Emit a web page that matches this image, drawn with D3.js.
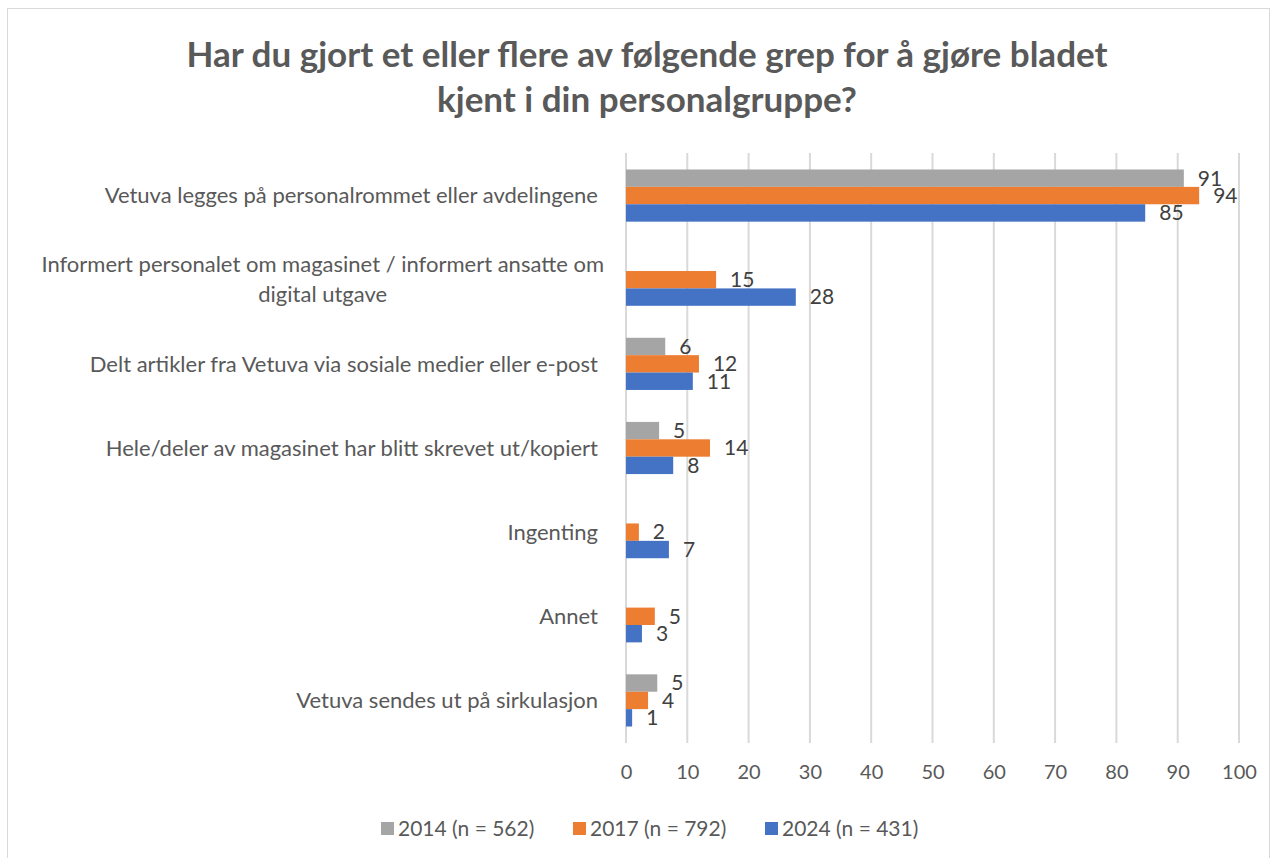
<!DOCTYPE html>
<html>
<head>
<meta charset="utf-8">
<script src="https://cdn.jsdelivr.net/npm/d3@7"></script>
<style>
  body { margin: 0; background: #fff; }
  svg text { font-family: Lato, "Open Sans", sans-serif; }
</style>
</head>
<body>
<div id="chart"></div>
<script>
// --- data ---
const categories = [
  "Vetuva legges på personalrommet eller avdelingene",
  "Informert personalet om magasinet / informert ansatte om|digital utgave",
  "Delt artikler fra Vetuva via sosiale medier eller e-post",
  "Hele/deler av magasinet har blitt skrevet ut/kopiert",
  "Ingenting",
  "Annet",
  "Vetuva sendes ut på sirkulasjon"
];
const seriesNames = ["2014 (n = 562)", "2017 (n = 792)", "2024 (n = 431)"];
const values2014 = [91.0, null, 6.4, 5.4, null, null, 5.1];
const values2017 = [93.5, 14.7, 11.9, 13.7, 2.1, 4.7, 3.6];
const values2024 = [84.7, 27.7, 10.9, 7.7, 7.0, 2.6, 1.0];
const xTicks = [0, 10, 20, 30, 40, 50, 60, 70, 80, 90, 100];
const colors = ["#a5a5a5", "#ed7d31", "#4472c4"];

const W = 1275, H = 858;
const svg = d3.select("#chart").append("svg")
  .attr("width", W).attr("height", H);

// chart border
svg.append("rect")
  .attr("x", 7.5).attr("y", 8.5)
  .attr("width", 1262).attr("height", 860)
  .attr("fill", "#fff").attr("stroke", "#d9d9d9");

// --- title ---
const title = svg.append("text")
  .attr("text-anchor", "middle")
  .attr("font-size", "35px").attr("font-weight", "bold")
  .attr("fill", "#595959");
title.append("tspan").attr("x", 647).attr("y", 67)
  .text("Har du gjort et eller flere av følgende grep for å gjøre bladet");
title.append("tspan").attr("x", 647).attr("y", 112)
  .text("kjent i din personalgruppe?");

// --- scales ---
const x = d3.scaleLinear().domain([0, 100]).range([626, 1239]);
const y = d3.scaleBand().domain(d3.range(categories.length)).range([153.5, 742.5])
  .paddingInner(0.38).paddingOuter(0.19);
const ySub = d3.scaleBand().domain([0, 1, 2]).range([0, y.bandwidth()]);

// gridlines
svg.append("g").selectAll("line").data(xTicks).join("line")
  .attr("x1", d => x(d)).attr("x2", d => x(d))
  .attr("y1", 153).attr("y2", 743)
  .attr("stroke", "#d9d9d9").attr("stroke-width", 2);

// tick labels
const xAxis = svg.append("g").attr("transform", "translate(0,743)")
  .call(d3.axisBottom(x).tickValues(xTicks).tickSize(0).tickPadding(22));
xAxis.select(".domain").remove();
xAxis.selectAll("text").attr("font-size", "20px").attr("fill", "#595959")
  .attr("font-family", "Lato");

// bars and labels
const series = [values2014, values2017, values2024];
const fmt = d3.format(".0f");
series.forEach((vals, s) => {
  const g = svg.append("g");
  const rows = vals.map((v, i) => ({ v, i })).filter(d => d.v !== null);
  g.selectAll("rect").data(rows).join("rect")
    .attr("x", x(0))
    .attr("y", d => y(d.i) + ySub(s))
    .attr("width", d => x(d.v) - x(0))
    .attr("height", ySub.bandwidth())
    .attr("fill", colors[s]);
  g.selectAll("text").data(rows).join("text")
    .attr("x", d => x(d.v) + 14)
    .attr("y", d => y(d.i) + ySub(s) + ySub.bandwidth() / 2)
    .attr("dy", "0.35em")
    .attr("font-size", "21px").attr("fill", "#404040")
    .text(d => fmt(d.v));
});

// category labels
categories.forEach((c, i) => {
  const lines = c.split("|");
  const cy = y(i) + y.bandwidth() / 2;
  const t = svg.append("text")
    .attr("font-size", "22px").attr("fill", "#595959")
    .attr("text-anchor", lines.length > 1 ? "middle" : "end");
  const lh = 30;
  const spans = lines.map((l, k) => t.append("tspan")
    .attr("y", cy + (k - (lines.length - 1) / 2) * lh)
    .attr("dy", "0.35em")
    .text(l));
  if (lines.length > 1) {
    const w = d3.max(spans, sp => sp.node().getComputedTextLength());
    spans.forEach(sp => sp.attr("x", 604 - w / 2));
  } else {
    spans.forEach(sp => sp.attr("x", 598));
  }
});

// legend
const legendX = [381, 573, 765];
seriesNames.forEach((n, s) => {
  svg.append("rect").attr("x", legendX[s]).attr("y", 822)
    .attr("width", 13).attr("height", 13).attr("fill", colors[s]);
  svg.append("text").attr("x", legendX[s] + 17).attr("y", 829)
    .attr("dy", "0.35em").attr("font-size", "21px").attr("fill", "#595959")
    .text(n);
});
</script>
</body>
</html>
